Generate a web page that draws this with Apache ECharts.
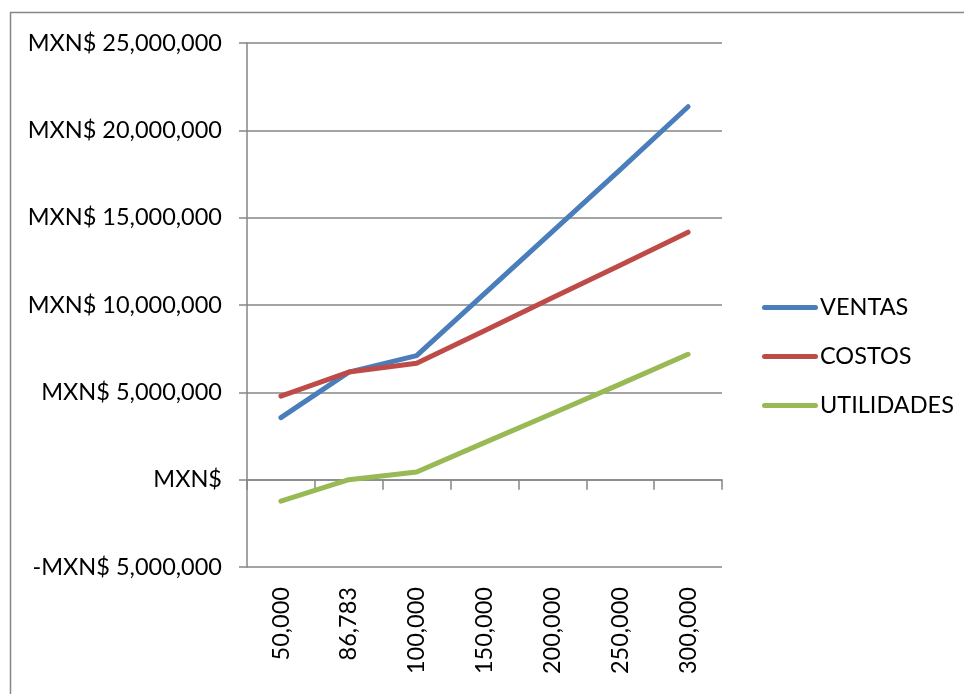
<!DOCTYPE html>
<html>
<head>
<meta charset="utf-8">
<script src="https://cdn.jsdelivr.net/npm/echarts@6/dist/echarts.min.js"></script>
<style>
html,body{margin:0;padding:0;background:#fff;}
#chart{width:964px;height:694px;}
</style>
</head>
<body>
<div id="chart"></div>
<script>
var categories = ['50,000', '86,783', '100,000', '150,000', '200,000', '250,000', '300,000'];
var ventas = [3550000, 6160000, 7100000, 10650000, 14200000, 17750000, 21350000];
var costos = [4780000, 6160000, 6660000, 8530000, 10410000, 12280000, 14170000];
var utilidades = [-1230000, 0, 440000, 2120000, 3790000, 5470000, 7180000];
var yTicks = { min: -5000000, max: 25000000, interval: 5000000 };

var FONT = 'Lato';
var FS = 23.5;
var GREY = '#868686';

function fmt(v) {
  if (v === 0) return 'MXN$';
  var s = Math.abs(v).toString().replace(/\B(?=(\d{3})+(?!\d))/g, ',');
  return (v < 0 ? '-MXN$ ' : 'MXN$ ') + s;
}

var chart = echarts.init(document.getElementById('chart'));
chart.setOption({
  animation: false,
  backgroundColor: '#fff',
  textStyle: { fontFamily: FONT },
  graphic: [{
    type: 'rect',
    shape: { x: 10.5, y: 12.5, width: 1200, height: 1200 },
    style: { fill: 'none', stroke: GREY, lineWidth: 1.5 },
    silent: true
  }],
  grid: { left: 247, top: 43, right: 242, bottom: 127, containLabel: false },
  legend: {
    orient: 'vertical',
    left: 757,
    top: 290,
    padding: 5,
    itemWidth: 56,
    itemHeight: 5,
    itemGap: 24,
    icon: 'path://M2.5,0H53.5A2.5,2.5,0,0,1,53.5,5H2.5A2.5,2.5,0,0,1,2.5,0Z',
    textStyle: { fontFamily: FONT, fontSize: FS, color: '#000', padding: [0, 0, 0, -3], lineHeight: 25 },
    data: ['VENTAS', 'COSTOS', 'UTILIDADES']
  },
  xAxis: [{
    type: 'category',
    data: categories,
    boundaryGap: true,
    axisLine: { onZero: true, lineStyle: { color: GREY, width: 1.5 } },
    axisTick: { show: true, length: 10, lineStyle: { color: GREY, width: 1.5 } },
    axisLabel: { show: false }
  }, {
    type: 'category',
    data: categories,
    boundaryGap: true,
    position: 'bottom',
    axisLine: { show: false, onZero: false },
    axisTick: { show: false },
    axisLabel: { rotate: 90, margin: 20, fontFamily: FONT, fontSize: FS, color: '#000' }
  }],
  yAxis: {
    type: 'value',
    min: yTicks.min,
    max: yTicks.max,
    interval: yTicks.interval,
    axisLine: { show: true, lineStyle: { color: GREY, width: 1.5 } },
    axisTick: { show: true, length: 8, lineStyle: { color: GREY, width: 1.5 } },
    splitLine: { show: true, lineStyle: { color: GREY, width: 1.5 } },
    axisLabel: { margin: 25, fontFamily: FONT, fontSize: FS, color: '#000', formatter: fmt }
  },
  series: [{
    name: 'VENTAS', type: 'line', xAxisIndex: 0, data: ventas, symbol: 'none',
    color: '#4A7EBB', lineStyle: { width: 5, cap: 'round', join: 'round' }
  }, {
    name: 'COSTOS', type: 'line', xAxisIndex: 0, data: costos, symbol: 'none',
    color: '#BE4B48', lineStyle: { width: 5, cap: 'round', join: 'round' }
  }, {
    name: 'UTILIDADES', type: 'line', xAxisIndex: 0, data: utilidades, symbol: 'none',
    color: '#98B954', lineStyle: { width: 5, cap: 'round', join: 'round' }
  }]
});
</script>
</body>
</html>
